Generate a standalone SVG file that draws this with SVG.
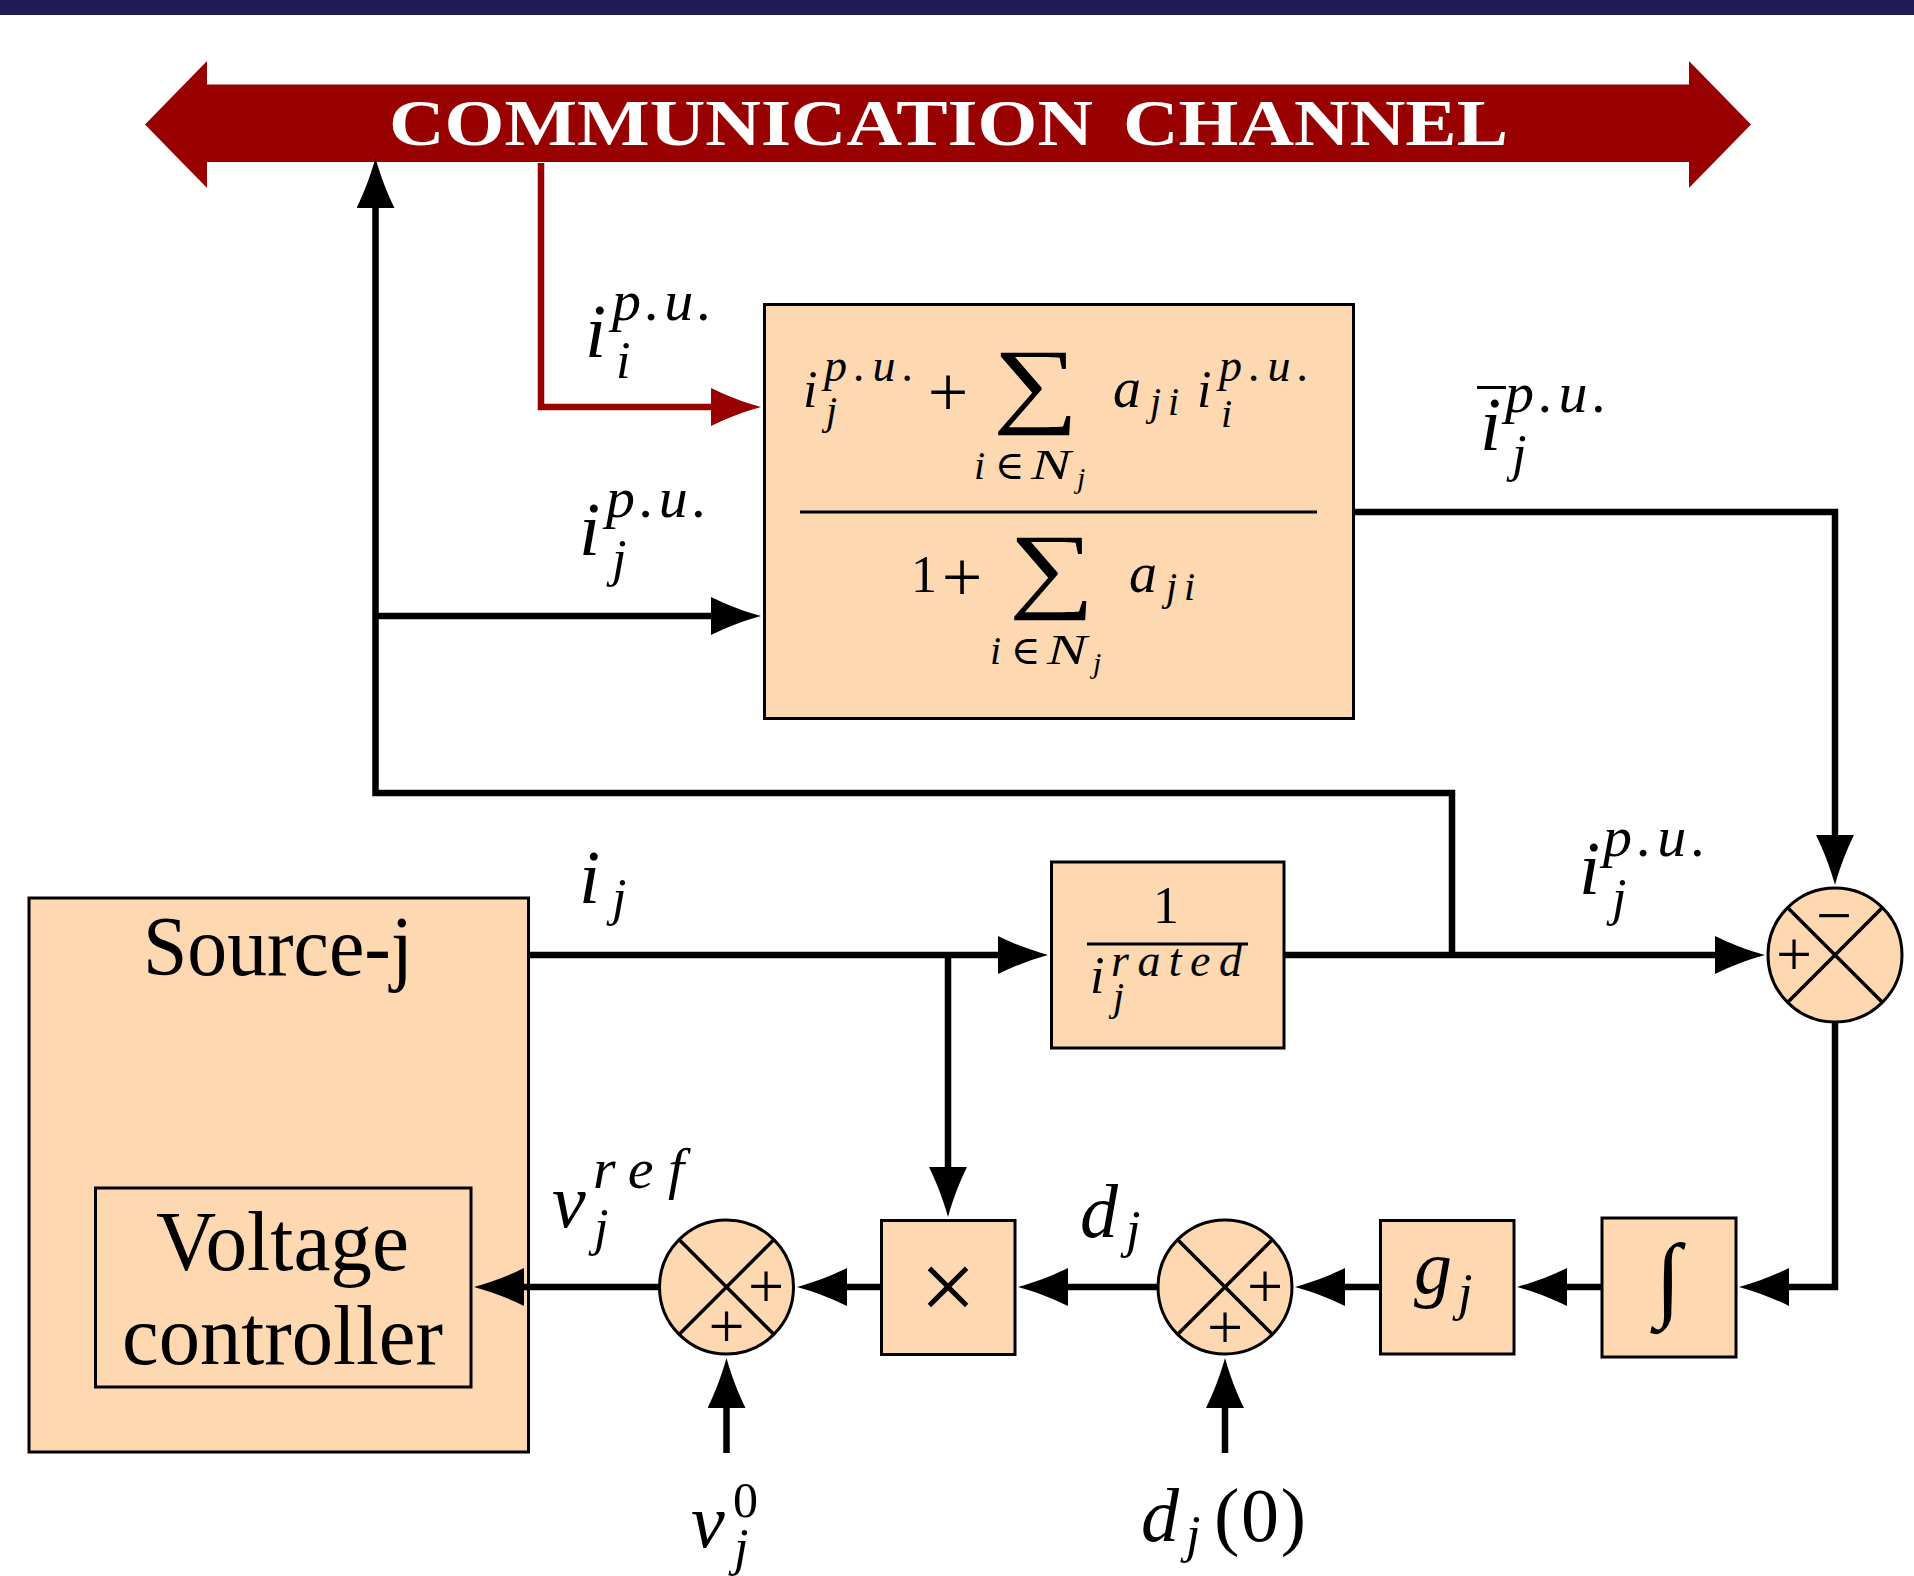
<svg xmlns="http://www.w3.org/2000/svg" width="1914" height="1576" viewBox="0 0 1914 1576">
<style>
text{font-family:"Liberation Serif","DejaVu Serif",serif;fill:#000}
.it{font-style:italic}
.s76{font-size:76px}.s52{font-size:52px}.s58{font-size:58px}.s46{font-size:46px}.s40{font-size:40px}.s30{font-size:30px}
.box{fill:#fed8b1;stroke:#000;stroke-width:3}
.x{stroke:#000;stroke-width:3.5;fill:none}
.wire{fill:none;stroke:#000;stroke-width:6.500}
.red{fill:none;stroke:#990000;stroke-width:6.500}
.big{font-size:84px;text-anchor:start}
.sign{font-size:64px;text-anchor:middle}
</style>
<defs>
<marker id="ah" markerUnits="userSpaceOnUse" markerWidth="52" markerHeight="38" refX="1" refY="19" orient="auto" viewBox="0 0 52 38"><path d="M50 19C32 14 14 7 0 0V38C14 31 32 24 50 19Z" fill="#000"/></marker>
<marker id="ar" markerUnits="userSpaceOnUse" markerWidth="52" markerHeight="38" refX="1" refY="19" orient="auto" viewBox="0 0 52 38"><path d="M50 19C32 14 14 7 0 0V38C14 31 32 24 50 19Z" fill="#990000"/></marker>
</defs>
<rect id="top-bar" x="0" y="0" width="1914" height="15" fill="#221a56"/>
<g id="channel">
<polygon points="145,124.500 207,61 207,84.500 1689,84.500 1689,61 1751,124.500 1689,188 1689,162 207,162 207,188" fill="#990000"/>
<text y="145" font-size="66" font-weight="bold" style="fill:#fff"><tspan x="389" textLength="704" lengthAdjust="spacingAndGlyphs">COMMUNICATION</tspan> <tspan x="1123" textLength="385" lengthAdjust="spacingAndGlyphs">CHANNEL</tspan></text>
</g>
<g id="consensus">
<rect class="box" x="764.500" y="304.500" width="589" height="414"/>
<line x1="800" y1="512" x2="1317" y2="512" stroke="#000" stroke-width="3"/>
<text class="it s52" x="803" y="407">i</text>
<text class="it s46" x="824" y="381" textLength="90">p.u.</text>
<text class="it s40" x="826" y="424">j</text>
<text x="948" y="416" font-size="72" text-anchor="middle">+</text>
<text x="993" y="415" font-size="95" textLength="86" lengthAdjust="spacingAndGlyphs">∑</text>
<text class="it" x="1113" y="407" font-size="56">a</text>
<text class="it s40" x="1150" y="415">j</text>
<text class="it s40" x="1168" y="415">i</text>
<text class="it s52" x="1197" y="407">i</text>
<text class="it s46" x="1219" y="381" textLength="90">p.u.</text>
<text class="it s40" x="1221" y="427">i</text>
<text class="it s40" x="974" y="479">i</text>
<text class="s40" x="995" y="479">∈</text>
<text class="it" font-size="42" x="1031" y="479" textLength="40" lengthAdjust="spacingAndGlyphs">N</text>
<text class="it s30" x="1077" y="488">j</text>
<text x="911" y="592" font-size="52">1</text>
<text x="962" y="601" font-size="72" text-anchor="middle">+</text>
<text x="1009" y="600" font-size="95" textLength="86" lengthAdjust="spacingAndGlyphs">∑</text>
<text class="it" x="1129" y="592" font-size="56">a</text>
<text class="it s40" x="1166" y="600">j</text>
<text class="it s40" x="1184" y="600">i</text>
<text class="it s40" x="990" y="664">i</text>
<text class="s40" x="1011" y="664">∈</text>
<text class="it" font-size="42" x="1047" y="664" textLength="40" lengthAdjust="spacingAndGlyphs">N</text>
<text class="it s30" x="1093" y="673">j</text>
</g>
<g id="source">
<rect class="box" x="29" y="898" width="499.500" height="554"/>
<text class="big" x="143" y="975" textLength="270" lengthAdjust="spacingAndGlyphs">Source-j</text>
</g>
<g id="voltage-controller">
<rect class="box" x="95.500" y="1188" width="375.500" height="199"/>
<text class="big" x="156" y="1270" textLength="253" lengthAdjust="spacingAndGlyphs">Voltage</text>
<text class="big" x="122" y="1364" textLength="321" lengthAdjust="spacingAndGlyphs">controller</text>
</g>
<g id="normalizer">
<rect class="box" x="1051.500" y="862" width="232.500" height="186"/>
<line x1="1087" y1="944" x2="1248" y2="944" stroke="#000" stroke-width="3"/>
<text x="1153" y="923" font-size="52">1</text>
<text class="it s52" x="1090" y="993">i</text>
<text class="it s46" x="1111" y="976" textLength="131">rated</text>
<text class="it s40" x="1113" y="1010">j</text>
</g>
<g id="sum-error">
<circle class="box" cx="1835" cy="955" r="67"/>
<path class="x" d="M1788 908L1882 1002M1882 908L1788 1002"/>
<text class="sign" x="1794" y="976">+</text>
<text class="sign" x="1834" y="937">−</text>
</g>
<g id="integrator">
<rect class="box" x="1602" y="1218" width="134" height="139"/>
<text x="1668" y="1309" font-size="94" text-anchor="middle" class="it">∫</text>
</g>
<g id="gain">
<rect class="box" x="1380.500" y="1220.500" width="133.500" height="133.500"/>
<text class="it s76" x="1414" y="1293">g</text>
<text class="it s52" x="1458" y="1310">j</text>
</g>
<g id="sum-droop">
<circle class="box" cx="1225" cy="1287" r="67"/>
<path class="x" d="M1178 1240L1272 1334M1272 1240L1178 1334"/>
<text class="sign" x="1265" y="1308">+</text>
<text class="sign" x="1225" y="1349">+</text>
</g>
<g id="multiplier">
<rect class="box" x="881.500" y="1220.500" width="133.500" height="134"/>
<text x="948" y="1320" font-size="100" text-anchor="middle">×</text>
</g>
<g id="sum-voltage">
<circle class="box" cx="726.500" cy="1287" r="67"/>
<path class="x" d="M679.500 1240L773.500 1334M773.500 1240L679.500 1334"/>
<text class="sign" x="766" y="1308">+</text>
<text class="sign" x="726.500" y="1348">+</text>
</g>
<g id="connectors">
<path class="red" d="M541 163V407H712" marker-end="url(#ar)"/>
<path class="wire" d="M1452 955V793H375.500V207" marker-end="url(#ah)"/>
<path class="wire" d="M375.500 616H712" marker-end="url(#ah)"/>
<path class="wire" d="M1354 512H1835V836" marker-end="url(#ah)"/>
<path class="wire" d="M528 955H999" marker-end="url(#ah)"/>
<path class="wire" d="M948 955V1168" marker-end="url(#ah)"/>
<path class="wire" d="M1284 955H1716" marker-end="url(#ah)"/>
<path class="wire" d="M1835 1022V1287H1788" marker-end="url(#ah)"/>
<path class="wire" d="M1602 1287H1566" marker-end="url(#ah)"/>
<path class="wire" d="M1380 1287H1344" marker-end="url(#ah)"/>
<path class="wire" d="M1158 1287H1067" marker-end="url(#ah)"/>
<path class="wire" d="M881 1287H846" marker-end="url(#ah)"/>
<path class="wire" d="M659 1287H523" marker-end="url(#ah)"/>
<path class="wire" d="M726.500 1453V1407" marker-end="url(#ah)"/>
<path class="wire" d="M1225 1453V1407" marker-end="url(#ah)"/>
</g>
<g id="labels">
<g id="label-ii">
<text class="it s76" x="585" y="357">i</text>
<text class="it s58" x="612" y="320" textLength="100">p.u.</text>
<text class="it s52" x="616" y="378">i</text>
</g>
<g id="label-ij-top">
<text class="it s76" x="579" y="555">i</text>
<text class="it s58" x="606" y="517" textLength="101">p.u.</text>
<text class="it s52" x="612" y="576">j</text>
</g>
<g id="label-ibar">
<line x1="1477" y1="387.500" x2="1506" y2="387.500" stroke="#000" stroke-width="3"/>
<text class="it s76" x="1480" y="450">i</text>
<text class="it s58" x="1505" y="412" textLength="102">p.u.</text>
<text class="it s52" x="1512" y="471">j</text>
</g>
<g id="label-ij-right">
<text class="it s76" x="1579" y="894">i</text>
<text class="it s58" x="1603" y="856" textLength="103">p.u.</text>
<text class="it s52" x="1612" y="915">j</text>
</g>
<g id="label-i">
<text class="it s76" x="579" y="903">i</text>
<text class="it s52" x="612" y="915">j</text>
</g>
<g id="label-vref">
<text class="it s76" x="552" y="1227">v</text>
<text class="it s58" x="593" y="1188" textLength="91">ref</text>
<text class="it s52" x="594" y="1245">j</text>
</g>
<g id="label-d">
<text class="it s76" x="1080" y="1237">d</text>
<text class="it s52" x="1126" y="1247">j</text>
</g>
<g id="label-v0">
<text class="it s76" x="691" y="1547">v</text>
<text x="733" y="1517" font-size="50">0</text>
<text class="it s52" x="734" y="1565">j</text>
</g>
<g id="label-d0">
<text class="it s76" x="1141" y="1541">d</text>
<text class="it s52" x="1186" y="1552">j</text>
<text x="1214" y="1541" font-size="76" textLength="92">(0)</text>
</g>
</g>
</svg>
